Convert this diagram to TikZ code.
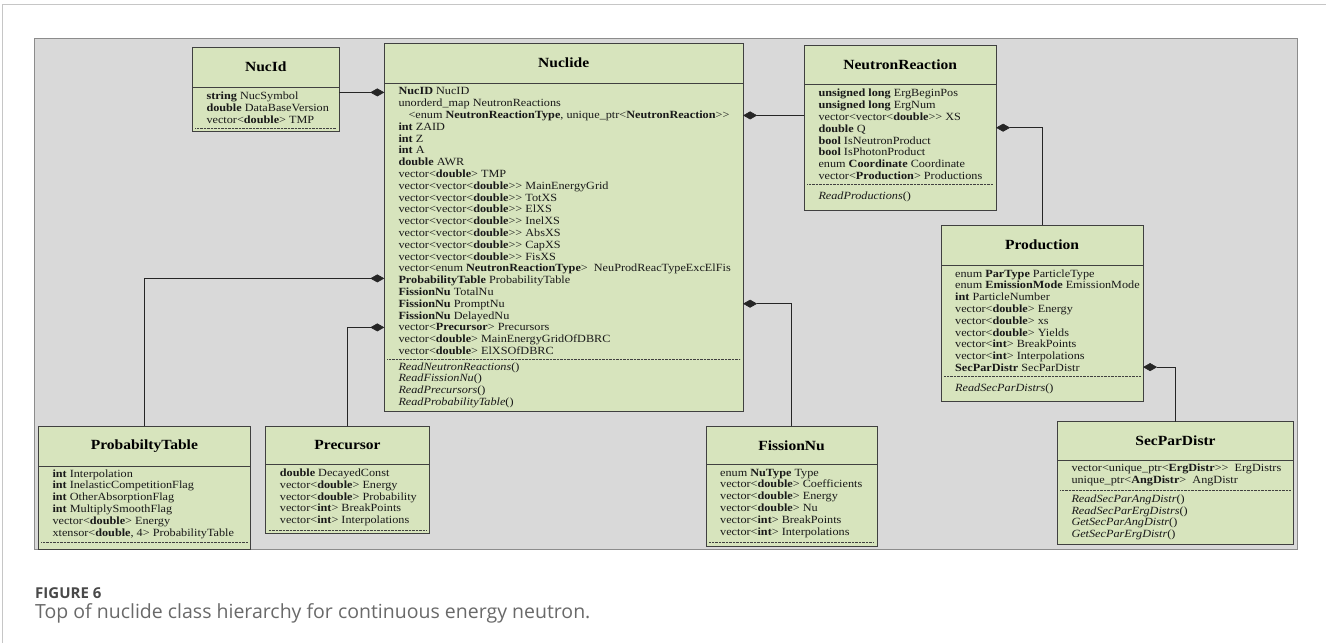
\documentclass[tikz,border=0pt]{standalone}
\usepackage{fontspec}
\setmainfont{Liberation Serif}[FakeStretch=1.11]
\newfontfamily\captionfont{Open Sans}
\usetikzlibrary{arrows.meta, backgrounds}
\definecolor{panelgray}{RGB}{217,217,217}
\definecolor{panelline}{RGB}{140,140,140}
\definecolor{clsfill}{RGB}{215,228,189}
\definecolor{clsline}{RGB}{64,64,64}
\definecolor{capgray}{RGB}{105,105,105}

\begin{document}
\begin{tikzpicture}[x=1pt, y=-1pt,
    clstitle/.style={anchor=north west, inner sep=0pt, text=black,
                     font=\bfseries\fontsize{14}{16}\selectfont},
    clsbody/.style={anchor=north west, inner xsep=14pt, inner ysep=0pt, align=left,
                    text=black!90, font=\fontsize{11}{11.8}\selectfont},
    clsframe/.style={draw=clsline, line width=0.8pt},
    clssep/.style={draw=clsline, line width=0.5pt, dash pattern=on 0.7pt off 0.7pt,
                   shorten <=3pt, shorten >=3pt},
    compose/.style={draw=black!85, line width=0.6pt, -{Diamond[length=14pt, width=8pt]}},
    caphead/.style={anchor=base west, inner sep=0pt, text=capgray!70!black,
                    font=\captionfont\bfseries\fontsize{15}{17}\selectfont},
    captext/.style={anchor=base west, inner sep=0pt, text=capgray,
                    font=\captionfont\fontsize{19.5}{22}\selectfont},
]
\useasboundingbox (0,0) rectangle (1326,643);

% Nuclide (centre)
\node[clstitle, minimum width=358.4pt, minimum height=39.4pt] (nuclide) at (384.3,43.3) {Nuclide};
\node[clsbody, minimum height=275.6pt] (nuclideA) at (nuclide.south west) {%
    \textbf{NucID} NucID\\
    unorderd\_map NeutronReactions\\
    \hspace*{10pt}<enum \textbf{NeutronReactionType}, unique\_ptr<\textbf{NeutronReaction}>{}>\\
    \textbf{int} ZAID\\
    \textbf{int} Z\\
    \textbf{int} A\\
    \textbf{double} AWR\\
    vector<\textbf{double}> TMP\\
    vector<vector<\textbf{double}>{}> MainEnergyGrid\\
    vector<vector<\textbf{double}>{}> TotXS\\
    vector<vector<\textbf{double}>{}> ElXS\\
    vector<vector<\textbf{double}>{}> InelXS\\
    vector<vector<\textbf{double}>{}> AbsXS\\
    vector<vector<\textbf{double}>{}> CapXS\\
    vector<vector<\textbf{double}>{}> FisXS\\
    vector<enum \textbf{NeutronReactionType}>\ \ NeuProdReacTypeExcElFis\\
    \textbf{ProbabilityTable} ProbabilityTable\\
    \textbf{FissionNu} TotalNu\\
    \textbf{FissionNu} PromptNu\\
    \textbf{FissionNu} DelayedNu\\
    vector<\textbf{Precursor}> Precursors\\
    vector<\textbf{double}> MainEnergyGridOfDBRC\\
    vector<\textbf{double}> ElXSOfDBRC};
\node[clsbody, minimum height=51.7pt] (nuclideM) at (nuclideA.south west) {%
    \textit{ReadNeutronReactions}()\\
    \textit{ReadFissionNu}()\\
    \textit{ReadPrecursors}()\\
    \textit{ReadProbabilityTable}()};

% NucId
\node[clstitle, minimum width=146.7pt, minimum height=39.4pt] (nucid) at (192.3,47.3) {NucId};
\node[clsbody, minimum height=40.6pt] (nucidA) at (nucid.south west) {%
    \textbf{string} NucSymbol\\
    \textbf{double} DataBaseVersion\\
    vector<\textbf{double}> TMP};
\node[clsbody, minimum height=2.7pt] (nucidM) at (nucidA.south west) {};

% NeutronReaction
\node[clstitle, minimum width=191.4pt, minimum height=39.3pt] (react) at (804.3,45) {NeutronReaction};
\node[clsbody, minimum height=99pt] (reactA) at (react.south west) {%
    \textbf{unsigned long} ErgBeginPos\\
    \textbf{unsigned long} ErgNum\\
    vector<vector<\textbf{double}>{}> XS\\
    \textbf{double} Q\\
    \textbf{bool} IsNeutronProduct\\
    \textbf{bool} IsPhotonProduct\\
    enum \textbf{Coordinate} Coordinate\\
    vector<\textbf{Production}> Productions};
\node[clsbody, minimum height=26pt] (reactM) at (reactA.south west) {\textit{ReadProductions}()};

% Production
\node[clstitle, minimum width=201.7pt, minimum height=40pt] (prod) at (941,225) {Production};
\node[clsbody, minimum height=110pt] (prodA) at (prod.south west) {%
    enum \textbf{ParType} ParticleType\\
    enum \textbf{EmissionMode} EmissionMode\\
    \textbf{int} ParticleNumber\\
    vector<\textbf{double}> Energy\\
    vector<\textbf{double}> xs\\
    vector<\textbf{double}> Yields\\
    vector<\textbf{int}> BreakPoints\\
    vector<\textbf{int}> Interpolations\\
    \textbf{SecParDistr} SecParDistr};
\node[clsbody, minimum height=25pt] (prodM) at (prodA.south west) {\textit{ReadSecParDistrs}()};

% ProbabiltyTable
\node[clstitle, minimum width=211.7pt, minimum height=39.7pt] (ptable) at (38.3,426) {ProbabiltyTable};
\node[clsbody, minimum height=75.3pt] (ptableA) at (ptable.south west) {%
    \textbf{int} Interpolation\\
    \textbf{int} InelasticCompetitionFlag\\
    \textbf{int} OtherAbsorptionFlag\\
    \textbf{int} MultiplySmoothFlag\\
    vector<\textbf{double}> Energy\\
    xtensor<\textbf{double}, 4> ProbabilityTable};
\node[clsbody, minimum height=6.7pt] (ptableM) at (ptableA.south west) {};

% Precursor
\node[clstitle, minimum width=163.3pt, minimum height=38.3pt] (precur) at (265.7,426) {Precursor};
\node[clsbody, minimum height=65pt] (precurA) at (precur.south west) {%
    \textbf{double} DecayedConst\\
    vector<\textbf{double}> Energy\\
    vector<\textbf{double}> Probability\\
    vector<\textbf{int}> BreakPoints\\
    vector<\textbf{int}> Interpolations};
\node[clsbody, minimum height=2.7pt] (precurM) at (precurA.south west) {};

% FissionNu
\node[clstitle, minimum width=170.7pt, minimum height=38.3pt] (fisnu) at (706,426) {FissionNu};
\node[clsbody, minimum height=76.7pt] (fisnuA) at (fisnu.south west) {%
    enum \textbf{NuType} Type\\
    vector<\textbf{double}> Coefficients\\
    vector<\textbf{double}> Energy\\
    vector<\textbf{double}> Nu\\
    vector<\textbf{int}> BreakPoints\\
    vector<\textbf{int}> Interpolations};
\node[clsbody, minimum height=4pt] (fisnuM) at (fisnuA.south west) {};

% SecParDistr
\node[clstitle, minimum width=236pt, minimum height=38.3pt] (secpar) at (1057.3,421.7) {SecParDistr};
\node[clsbody, minimum height=29.3pt] (secparA) at (secpar.south west) {%
    vector<unique\_ptr<\textbf{ErgDistr}>{}>\ \ ErgDistrs\\
    unique\_ptr<\textbf{AngDistr}>\ \ AngDistr};
\node[clsbody, minimum height=54pt] (secparM) at (secparA.south west) {%
    \textit{ReadSecParAngDistr}()\\
    \textit{ReadSecParErgDistrs}()\\
    \textit{GetSecParAngDistr}()\\
    \textit{GetSecParErgDistr}()};

% class boxes: fill, frame, title rule, dotted rule
\begin{scope}[on background layer]
    \draw[gray!45, line width=0.8pt] (2.5,643) -- (2.5,4) -- (1326,4);
    \draw[fill=panelgray, draw=panelline, line width=1pt] (34,38) rectangle (1297.7,549);
    \foreach \cls in {nucid, nuclide, react, prod, ptable, precur, fisnu, secpar}
        \fill[clsfill] (\cls.north west) rectangle (\cls.east |- \cls M.south);
\end{scope}
\foreach \cls in {nucid, nuclide, react, prod, ptable, precur, fisnu, secpar} {
    \draw[clsframe] (\cls.north west) rectangle (\cls.east |- \cls M.south);
    \draw[clsframe] (\cls.south west) -- (\cls.south east);
    \draw[clssep] (\cls A.south west) -- (\cls.east |- \cls A.south);
}

% junction points on the owning classes
\coordinate (nucidJ) at ([yshift=-5.3pt]nucid.south east);
\coordinate (reactJ) at ([yshift=-30.7pt]react.south west);
\coordinate (ptableJ) at ([yshift=-195.3pt]nuclide.south west);
\coordinate (precurJ) at ([yshift=-244.3pt]nuclide.south west);
\coordinate (fisnuJ) at ([yshift=-220.6pt]nuclide.south east);
\coordinate (prodJ) at ([yshift=-43pt]react.south east);
\coordinate (secparJ) at ([yshift=-101.7pt]prod.south east);

% compositions
\draw[compose] (nucidJ) -- (nucidJ -| nuclide.west);
\draw[compose] (reactJ) -- (reactJ -| nuclide.east);
\draw[compose] (ptable.north) |- (ptableJ);
\draw[compose] (precur.north) |- (precurJ);
\draw[compose] (fisnu.north) |- (fisnuJ);
\draw[compose] (prod.north) |- (prodJ);
\draw[compose] (secpar.north) |- (secparJ);

% caption
\node[caphead] (fighead) at (35,598) {FIGURE 6};
\node[captext] (figtext) at (35,618) {Top of nuclide class hierarchy for continuous energy neutron.};
\end{tikzpicture}
\end{document}
